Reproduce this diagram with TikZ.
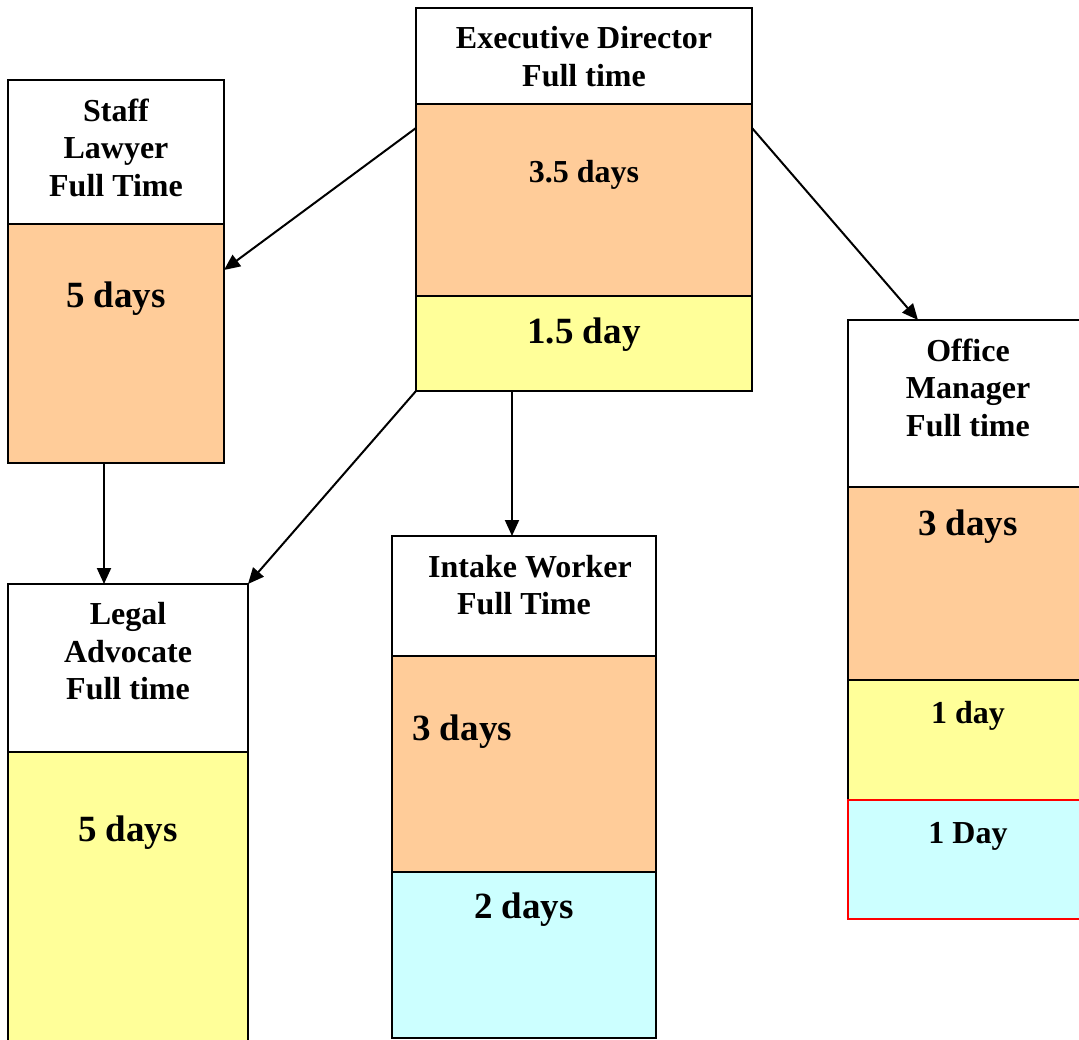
\documentclass[tikz,border=0pt]{standalone}
\usepackage{fontspec}
\setmainfont{Liberation Serif}
\usetikzlibrary{arrows.meta,positioning}
\definecolor{peach}{HTML}{FFCC99}
\definecolor{paleyellow}{HTML}{FFFF99}
\definecolor{palecyan}{HTML}{CCFFFF}
\tikzset{cell/.style={rectangle,draw=black,line width=2pt,inner sep=0pt,outer sep=0pt,minimum width=#1},
         hdrbox/.style={cell=#1,fill=white},
         peachbox/.style={cell=#1,fill=peach},
         yellowbox/.style={cell=#1,fill=paleyellow},
         cyanbox/.style={cell=#1,fill=palecyan},
         titletext/.style={font=\bfseries\fontsize{32}{37.5}\selectfont,align=center,inner sep=0pt},
         bigtext/.style={font=\bfseries\fontsize{37}{44}\selectfont,anchor=base,inner sep=0pt},
         smalltext/.style={font=\bfseries\fontsize{32}{38}\selectfont,anchor=base,inner sep=0pt},
         arr/.style={-{Triangle[length=16pt,width=14pt]},line width=2pt}
}

\begin{document}
\begin{tikzpicture}[x=1pt,y=-1pt]
\path[use as bounding box,clip] (0,0) rectangle (1079,1040);

% executive director
\node[hdrbox=336pt,minimum height=96pt,anchor=north west] (edH) at (416,8) {};
\node[peachbox=336pt,minimum height=192pt,below=0pt of edH] (edA) {};
\node[yellowbox=336pt,minimum height=95pt,below=0pt of edA] (edB) {};
\node[titletext] (edT) at ([yshift=-48.5pt]edH.north) {Executive Director\\Full time};
\node[smalltext] (edAT) at ([yshift=-79pt]edA.north) {3.5 days};
\node[bigtext] (edBT) at ([yshift=-48pt]edB.north) {1.5 day};

% staff lawyer
\node[hdrbox=216pt,minimum height=144pt,anchor=north west] (slH) at (8,80) {};
\node[peachbox=216pt,minimum height=239pt,below=0pt of slH] (slA) {};
\node[titletext] (slT) at ([yshift=-67.5pt]slH.north) {Staff\\Lawyer\\Full Time};
\node[bigtext] (slAT) at ([yshift=-84pt]slA.north) {5 days};

% office manager
\node[hdrbox=240pt,minimum height=167pt,anchor=north west] (omH) at (848,320) {};
\node[peachbox=240pt,minimum height=193pt,below=0pt of omH] (omA) {};
\node[yellowbox=240pt,minimum height=120pt,below=0pt of omA] (omB) {};
\node[cyanbox=240pt,minimum height=119pt,below=0pt of omB,draw=red] (omC) {};
\node[titletext] (omT) at ([yshift=-67.5pt]omH.north) {Office\\Manager\\Full time};
\node[bigtext] (omAT) at ([yshift=-48pt]omA.north) {3 days};
\node[smalltext] (omBT) at ([yshift=-43pt]omB.north) {1 day};
\node[smalltext] (omCT) at ([yshift=-43pt]omC.north) {1 Day};

% legal advocate
\node[hdrbox=240pt,minimum height=168pt,anchor=north west] (laH) at (8,584) {};
\node[yellowbox=240pt,minimum height=300pt,below=0pt of laH] (laA) {};
\node[titletext] (laT) at ([yshift=-67.5pt]laH.north) {Legal\\Advocate\\Full time};
\node[bigtext] (laAT) at ([yshift=-89pt]laA.north) {5 days};

% intake worker
\node[hdrbox=264pt,minimum height=120pt,anchor=north west] (iwH) at (392,536) {};
\node[peachbox=264pt,minimum height=216pt,below=0pt of iwH] (iwA) {};
\node[cyanbox=264pt,minimum height=166pt,below=0pt of iwA] (iwB) {};
\node[titletext] (iwT) at ([yshift=-49pt]iwH.north) {\hspace*{12pt}Intake Worker\\Full Time};
\node[bigtext,anchor=base west] (iwAT) at ([xshift=20pt,yshift=-84pt]iwA.north west) {3 days};
\node[bigtext] (iwBT) at ([yshift=-46pt]iwB.north) {2 days};

% reporting lines
\draw[arr] ([yshift=-24pt]edA.north west) -- ([yshift=-46pt]slA.north east);
\draw[arr] ([yshift=-24pt]edA.north east) -- ([xshift=70pt]omH.north west);
\draw[arr] (edB.south west) -- (laH.north east);
\draw[arr] ([xshift=96pt]edB.south west) -- ([xshift=120pt]iwH.north west);
\draw[arr] ([xshift=-12pt]slA.south) -- ([xshift=-24pt]laH.north);
\end{tikzpicture}
\end{document}
